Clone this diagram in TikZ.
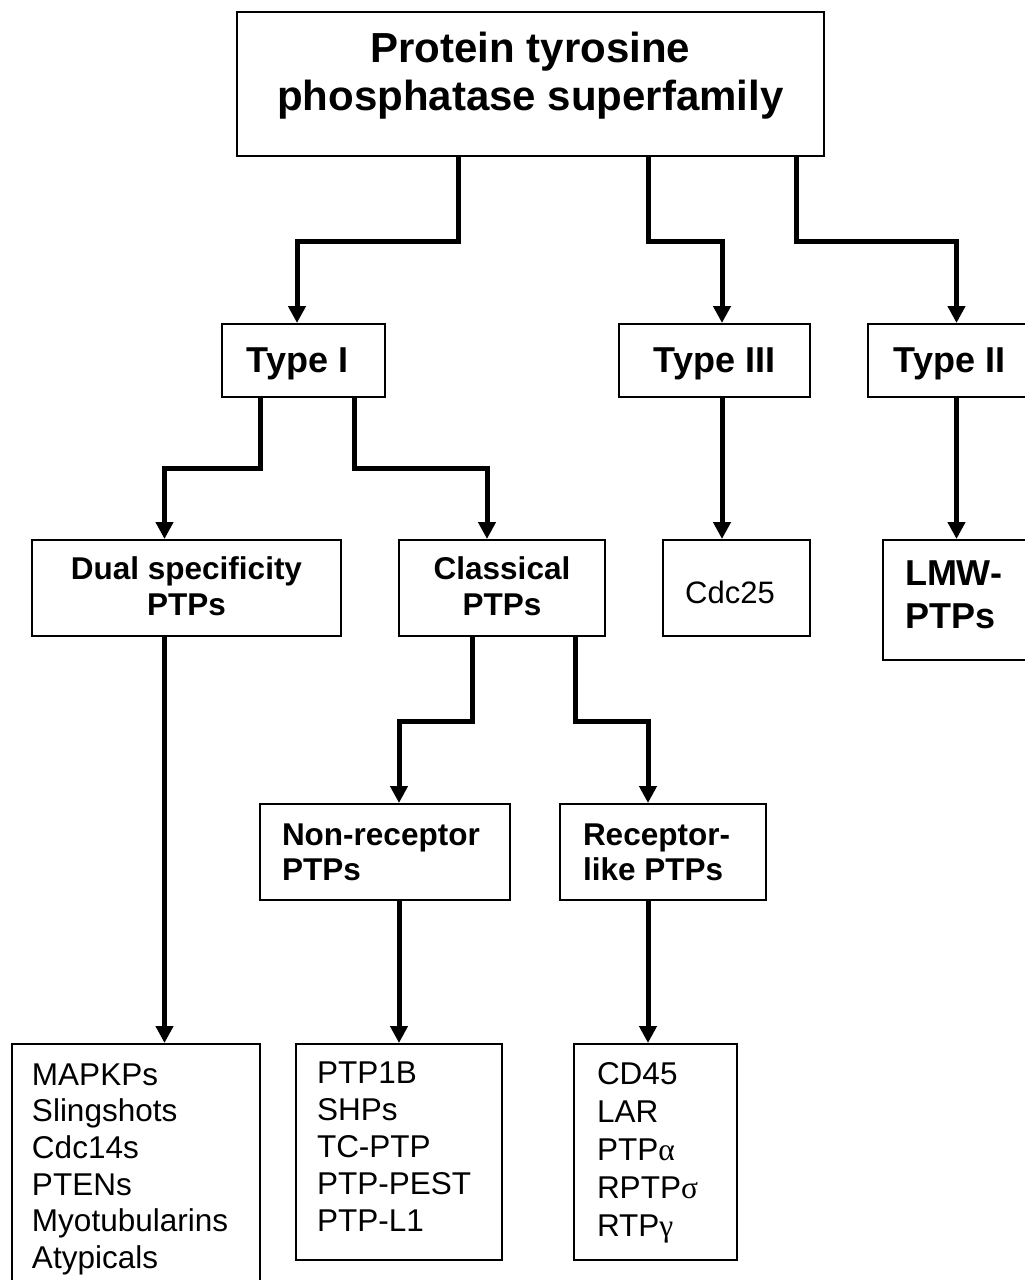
\documentclass[tikz,border=0pt]{standalone}
\usepackage{fontspec}
\setmainfont{Liberation Sans}
\newfontfamily\grk{Liberation Serif}
\usetikzlibrary{arrows.meta}
\begin{document}
\begin{tikzpicture}[x=1pt,y=-1pt,
  box/.style={draw, line width=2pt, rectangle, inner sep=0pt, outer sep=1pt},
  big/.style={font=\fontsize{42}{48}\selectfont\bfseries},
  typ/.style={font=\fontsize{36}{43}\selectfont\bfseries},
  mid/.style={font=\fontsize{31.5}{36}\selectfont\bfseries},
  reg/.style={font=\fontsize{31.5}{37}\selectfont},
  arr/.style={line width=5pt, line join=miter, -{Triangle[length=17pt,width=17pt]}}]
\useasboundingbox[fill=white] (0,0) rectangle (1025,1280);

% top
\node[box,big,text height=50pt,text depth=94pt] (top) at (530.5,84)
  {\makebox[587pt][c]{\begin{tabular}[t]{@{}c@{}}Protein tyrosine\\phosphatase superfamily\end{tabular}}};

% level 1
\node[box,typ,text height=48pt,text depth=25pt] (typeI) at (303.5,360.5)
  {\makebox[163pt][c]{Type I\hspace*{12pt}}};
\node[box,typ,text height=48pt,text depth=25pt] (typeIII) at (714.5,360.5)
  {\makebox[191pt][c]{Type III}};
\node[box,typ,text height=48pt,text depth=25pt] (typeII) at (949.5,360.5)
  {\makebox[163pt][c]{Type II}};

% level 2
\node[box,mid,text height=39pt,text depth=57pt] (dual) at (186.5,588)
  {\makebox[309pt][c]{\begin{tabular}[t]{@{}c@{}}Dual specificity\\PTPs\end{tabular}}};
\node[box,mid,text height=39pt,text depth=57pt] (classical) at (502,588)
  {\makebox[206pt][c]{\begin{tabular}[t]{@{}c@{}}Classical\\PTPs\end{tabular}}};
\node[box,font=\fontsize{31}{36}\selectfont,text height=63pt,text depth=33pt] (cdc) at (736.5,588)
  {\makebox[147pt][c]{Cdc25\hspace*{13pt}}};
\node[box,typ,text height=45pt,text depth=75pt] (lmw) at (959,600)
  {\makebox[152pt][l]{\hspace*{22pt}\begin{tabular}[t]{@{}l@{}}LMW-\\PTPs\end{tabular}}};

% level 3
\node[box,font=\fontsize{31.5}{35}\selectfont\bfseries,text height=41pt,text depth=55pt] (nonrec) at (385,852)
  {\makebox[250pt][l]{\hspace*{22pt}\begin{tabular}[t]{@{}l@{}}Non-receptor\\PTPs\end{tabular}}};
\node[box,font=\fontsize{31.5}{35}\selectfont\bfseries,text height=41pt,text depth=55pt] (rec) at (663,852)
  {\makebox[206pt][l]{\hspace*{23pt}\begin{tabular}[t]{@{}l@{}}Receptor-\\like PTPs\end{tabular}}};

% lists
\node[box,font=\fontsize{31.5}{36.7}\selectfont,text height=41pt,text depth=210pt] (list1) at (136,1169.5)
  {\makebox[248pt][l]{\hspace*{20pt}\begin{tabular}[t]{@{}l@{}}MAPKPs\\Slingshots\\Cdc14s\\PTENs\\Myotubularins\\Atypicals\end{tabular}}};
\node[box,font=\fontsize{31.5}{37}\selectfont,text height=39pt,text depth=177pt] (list2) at (399,1152)
  {\makebox[206pt][l]{\hspace*{21pt}\begin{tabular}[t]{@{}l@{}}PTP1B\\SHPs\\TC-PTP\\PTP-PEST\\PTP-L1\end{tabular}}};
\node[box,font=\fontsize{31.5}{38}\selectfont,text height=40pt,text depth=176pt] (list3) at (655.5,1152)
  {\makebox[163pt][l]{\hspace*{23pt}\begin{tabular}[t]{@{}l@{}}CD45\\LAR\\PTP{\grk α}\\RPTP{\grk σ}\\RTP{\grk γ}\end{tabular}}};

% connectors
\draw[arr] ([xshift=-72.5pt]top.south) -- ++(0,84) -| ([xshift=-6.5pt]typeI.north);
\draw[arr] ([xshift=117.5pt]top.south) -- ++(0,84) -| ([xshift=7.5pt]typeIII.north);
\draw[arr] ([xshift=265.5pt]top.south) -- ++(0,84) -| ([xshift=7pt]typeII.north);
\draw[arr] ([xshift=-43.5pt]typeI.south) -- ++(0,70) -| ([xshift=-22pt]dual.north);
\draw[arr] ([xshift=50.5pt]typeI.south) -- ++(0,70) -| ([xshift=-15pt]classical.north);
\draw[arr] ([xshift=7.5pt]typeIII.south) -- ([xshift=-14.5pt]cdc.north);
\draw[arr] ([xshift=7pt]typeII.south) -- ([xshift=-2.5pt]lmw.north);
\draw[arr] ([xshift=-22pt]dual.south) -- ([xshift=28.5pt]list1.north);
\draw[arr] ([xshift=-30pt]classical.south) -- ++(0,84) -| ([xshift=14pt]nonrec.north);
\draw[arr] ([xshift=73pt]classical.south) -- ++(0,84) -| ([xshift=-15pt]rec.north);
\draw[arr] ([xshift=14pt]nonrec.south) -- (list2.north);
\draw[arr] ([xshift=-15pt]rec.south) -- ([xshift=-7.5pt]list3.north);
\end{tikzpicture}
\end{document}
